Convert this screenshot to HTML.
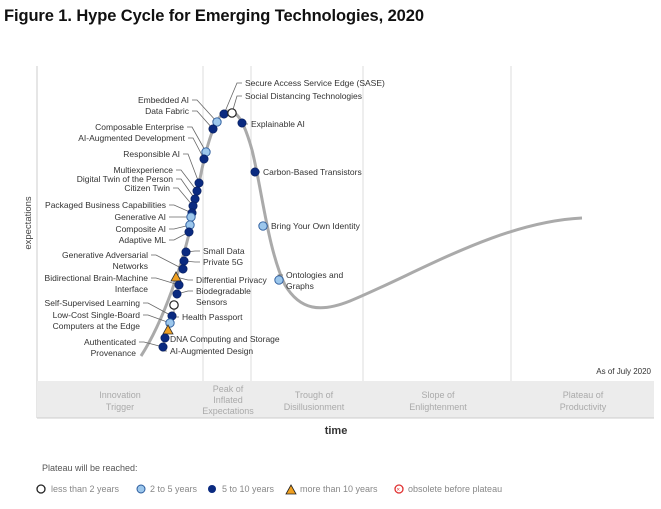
<!DOCTYPE html>
<html><head><meta charset="utf-8"><style>
body{margin:0;background:#fff;font-family:"Liberation Sans",sans-serif}
svg text{font-family:"Liberation Sans",sans-serif}
</style></head><body>
<svg id="c" width="661" height="504" viewBox="0 0 661 504" xmlns="http://www.w3.org/2000/svg">
<text x="4" y="21" font-size="16.5" font-weight="bold" fill="#111" textLength="420">Figure 1. Hype Cycle for Emerging Technologies, 2020</text>
<g>
<line x1="37" y1="66" x2="37" y2="418" stroke="#ccc"/>
<line x1="203" y1="66" x2="203" y2="381" stroke="#ddd"/>
<line x1="251" y1="66" x2="251" y2="381" stroke="#ddd"/>
<line x1="363" y1="66" x2="363" y2="381" stroke="#ddd"/>
<line x1="511" y1="66" x2="511" y2="381" stroke="#ddd"/>
<rect x="37" y="381" width="617" height="37" fill="#ececec"/>
<line x1="37" y1="418" x2="654" y2="418" stroke="#ccc"/>
</g>
<g font-size="9" fill="#aaa" text-anchor="middle">
<text x="120" y="398"><tspan x="120">Innovation</tspan><tspan x="120" dy="12">Trigger</tspan></text>
<text x="228" y="392"><tspan x="228">Peak of</tspan><tspan x="228" dy="11">Inflated</tspan><tspan x="228" dy="11">Expectations</tspan></text>
<text x="314" y="398"><tspan x="314">Trough of</tspan><tspan x="314" dy="12">Disillusionment</tspan></text>
<text x="438" y="398"><tspan x="438">Slope of</tspan><tspan x="438" dy="12">Enlightenment</tspan></text>
<text x="583" y="398"><tspan x="583">Plateau of</tspan><tspan x="583" dy="12">Productivity</tspan></text>
</g>
<text x="31" y="223" font-size="9.5" fill="#444" text-anchor="middle" transform="rotate(-90 31 223)">expectations</text>
<text x="336" y="434" font-size="11" font-weight="bold" fill="#333" text-anchor="middle">time</text>
<text x="651" y="374" font-size="8" fill="#333" text-anchor="end">As of July 2020</text>
<path d="M141,356 C163,322 183,265 194,212 C204,150 215,112 228,111 C238,110 245,125 252,150 C262,190 268,250 285,285 C300,310 320,313 350,301 C420,272 500,222 582,218" fill="none" stroke="#aaa" stroke-width="3"/>
<g id="leaders" stroke="#666" stroke-width="0.8" fill="none"></g>
<g id="dots"></g>
<g id="labels" font-size="8.5" fill="#333"></g>
<g font-size="9" fill="#888">
<text x="42" y="471" fill="#555">Plateau will be reached:</text>
<circle cx="41" cy="489" r="4" fill="#fff" stroke="#222" stroke-width="1.3"/>
<text x="51" y="492">less than 2 years</text>
<circle cx="141" cy="489" r="4" fill="#9cc7ec" stroke="#2a5a9c"/>
<text x="150" y="492">2 to 5 years</text>
<circle cx="212" cy="489" r="4" fill="#0a2a80"/>
<text x="222" y="492">5 to 10 years</text>
<path d="M286,494 L291,485 L296,494 Z" fill="#f0a020" stroke="#222" stroke-width="0.8"/>
<text x="300" y="492">more than 10 years</text>
<circle cx="399" cy="489" r="4" fill="#fff" stroke="#e03030" stroke-width="1.3"/>
<text x="396.5" y="491.5" font-size="6" fill="#e03030">×</text>
<text x="408" y="492">obsolete before plateau</text>
</g>
</svg>
<script>
// time position (0..617) and expectation (0..320) readings for each technology
const names = ["Secure Access Service Edge (SASE)","Social Distancing Technologies","Embedded AI","Data Fabric","Composable Enterprise","AI-Augmented Development","Responsible AI","Multiexperience","Digital Twin of the Person","Citizen Twin","Packaged Business Capabilities","Generative AI","Composite AI","Adaptive ML","Small Data","Private 5G","Generative Adversarial Networks","Differential Privacy","Bidirectional Brain-Machine Interface","Biodegradable Sensors","Health Passport","Self-Supervised Learning","Low-Cost Single-Board Computers at the Edge","DNA Computing and Storage","AI-Augmented Design","Authenticated Provenance","Explainable AI","Carbon-Based Transistors","Bring Your Own Identity","Ontologies and Graphs"];
const timeVals = [187,195,180,176,169,167,162,160,158,156,155,154,153,152,149,147,146,139,142,140,137,135,133,131,128,126,205,218,226,242];
const expectVals = [267,268,259,252,229,222,198,190,182,175,168,164,156,149,129,120,112,104,96,87,76,65,58,51,43,34,258,209,155,101];
const classes = ["5to10","lt2","2to5","5to10","2to5","5to10","5to10","5to10","5to10","5to10","5to10","2to5","2to5","5to10","5to10","5to10","5to10","gt10","5to10","5to10","lt2","5to10","2to5","gt10","5to10","5to10","5to10","5to10","2to5","2to5"];
// label anchor readings (same units) and side
const labelLines = [["Secure Access Service Edge (SASE)"],["Social Distancing Technologies"],["Embedded AI"],["Data Fabric"],["Composable Enterprise"],["AI-Augmented Development"],["Responsible AI"],["Multiexperience"],["Digital Twin of the Person"],["Citizen Twin"],["Packaged Business Capabilities"],["Generative AI"],["Composite AI"],["Adaptive ML"],["Small Data"],["Private 5G"],["Generative Adversarial","Networks"],["Differential Privacy"],["Bidirectional Brain-Machine","Interface"],["Biodegradable","Sensors"],["Health Passport"],["Self-Supervised Learning"],["Low-Cost Single-Board","Computers at the Edge"],["DNA Computing and Storage"],["AI-Augmented Design"],["Authenticated","Provenance"],["Explainable AI"],["Carbon-Based Transistors"],["Bring Your Own Identity"],["Ontologies and","Graphs"]];
const labelTime = [208,208,152,152,147,148,143,136,136,133,129,129,129,129,166,166,111,159,111,159,145,103,103,133,133,99,214,226,234,249];
const labelExp = [298,285,281,270,254,243,227,211,202,193,176,164,152,141,130,119,126,101,103,90,64,78,66,42,30,39,257,209,155,106];
const sides = ["r","r","l","l","l","l","l","l","l","l","l","l","l","l","r","r","l","r","l","r","r","l","l","r","r","l","r","r","r","r"];

const X0=37, Y0=381;
function xs(t){return X0+t;}
function ys(e){return Y0-e;}
const NS="http://www.w3.org/2000/svg";
const dots=document.getElementById('dots'), labels=document.getElementById('labels'), leaders=document.getElementById('leaders');
names.forEach((n,i)=>{
  const cx=xs(timeVals[i]), cy=ys(expectVals[i]);
  let m;
  if(classes[i]==="gt10"){
    m=document.createElementNS(NS,'path');
    m.setAttribute('d',`M${cx-5},${cy+4} L${cx},${cy-5} L${cx+5},${cy+4} Z`);
    m.setAttribute('fill','#f0a020');m.setAttribute('stroke','#333');m.setAttribute('stroke-width','0.8');
  } else {
    m=document.createElementNS(NS,'circle');
    m.setAttribute('cx',cx);m.setAttribute('cy',cy);m.setAttribute('r',4.2);
    if(classes[i]==="lt2"){m.setAttribute('fill','#fff');m.setAttribute('stroke','#222');m.setAttribute('stroke-width','1.2');}
    else if(classes[i]==="2to5"){m.setAttribute('fill','#9cc7ec');m.setAttribute('stroke','#2a5a9c');m.setAttribute('stroke-width','0.9');}
    else {m.setAttribute('fill','#0a2a80');m.setAttribute('stroke','#061c5a');m.setAttribute('stroke-width','0.6');}
  }
  
  
  dots.appendChild(m);
  const lx=xs(labelTime[i]), ly=ys(labelExp[i]);
  const t=document.createElementNS(NS,'text');
  const right=sides[i]==="r";
  t.setAttribute('text-anchor',right?'start':'end');
  labelLines[i].forEach((s,k)=>{
    const sp=document.createElementNS(NS,'tspan');
    sp.setAttribute('x',lx);sp.setAttribute('y',ly+3+k*11);sp.textContent=s;t.appendChild(sp);
  });
  
  
  labels.appendChild(t);
  const p=document.createElementNS(NS,'polyline');
  const sx=right?lx-3:lx+3, kx=right?lx-8:lx+8;
  p.setAttribute('points',`${sx},${ly} ${kx},${ly} ${cx},${cy}`);
  
  
  leaders.appendChild(p);
});
</script>
</body></html>
